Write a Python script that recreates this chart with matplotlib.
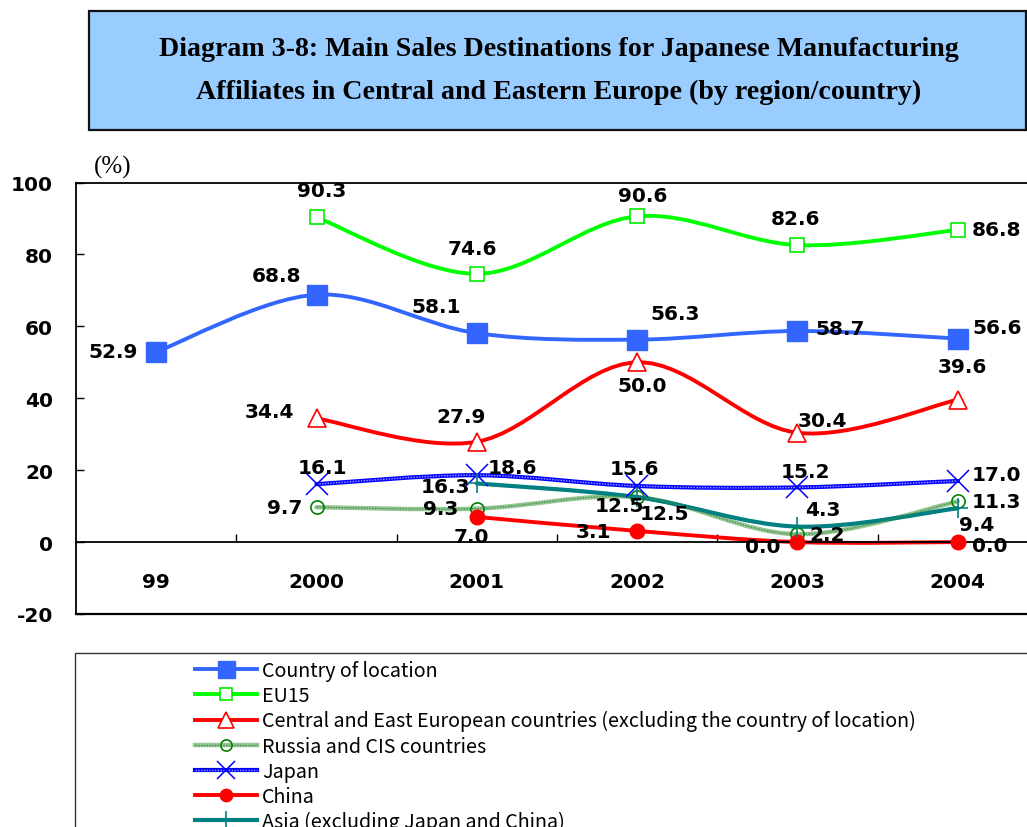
import matplotlib
matplotlib.use('Agg')
import matplotlib.pyplot as plt
from matplotlib.path import Path
from matplotlib.patches import PathPatch, Rectangle
from matplotlib.lines import Line2D
from matplotlib.font_manager import FontProperties
import numpy as np

# ---------------- data ----------------
years = ['99', '2000', '2001', '2002', '2003', '2004']
country_of_location = [52.9, 68.8, 58.1, 56.3, 58.7, 56.6]
eu15 = [None, 90.3, 74.6, 90.6, 82.6, 86.8]
central_east_europe = [None, 34.4, 27.9, 50.0, 30.4, 39.6]
russia_cis = [None, 9.7, 9.3, 12.5, 2.2, 11.3]
japan = [None, 16.1, 18.6, 15.6, 15.2, 17.0]
china = [None, None, 7.0, 3.1, 0.0, 0.0]
asia = [None, None, 16.3, 12.5, 4.3, 9.4]

legend_labels = [
    'Country of location',
    'EU15',
    'Central and East European countries (excluding the country of location)',
    'Russia and CIS countries',
    'Japan',
    'China',
    'Asia (excluding Japan and China)',
]
y_ticks = [-20, 0, 20, 40, 60, 80, 100]

# ---------------- styles ----------------
# label offsets in pixels (dx right, dy down) for each valid point
styles = [
    dict(values=country_of_location, color='#3366FF', marker='s', ms=14.4, mfc='#3366FF', mec='#3366FF', mew=1,
         lw=2.8, offsets=[(-43, 0), (-40, -19), (-41, -27), (38, -26), (43, -3), (39, -11)]),
    dict(values=eu15, color='#00FF00', marker='s', ms=10, mfc='white', mec='#00EE00', mew=1.2,
         lw=2.8, offsets=[(5, -27), (-4, -25), (6, -21), (-2, -27), (39, 0)]),
    dict(values=central_east_europe, color='#FF0000', marker='^', ms=13.5, mfc='white', mec='#FF0000', mew=1.2,
         lw=2.8, offsets=[(-47, -7), (-16, -25), (5, 23), (25, -12), (5, -33)]),
    dict(values=russia_cis, color='#94C694', marker='o', ms=9.5, mfc='none', mec='#008000', mew=1.2,
         lw=3.2, overlay='#4A8F4A', offsets=[(-32, 0), (-36, 0), (-18, 8), (30, 0), (39, 0)]),
    dict(values=japan, color='#0000FF', marker='x', ms=16, mfc='none', mec='#0000FF', mew=1.1,
         lw=3.0, overlay='#A0A0FF', offsets=[(6, -17), (36, -8), (-3, -17), (8, -16), (39, -6)]),
    dict(values=china, color='#FF0000', marker='o', ms=10.5, mfc='#FF0000', mec='#FF0000', mew=1,
         lw=2.8, offsets=[(-5, 20), (-44, 1), (-35, 4), (32, 3)]),
    dict(values=asia, color='#008080', marker='+', ms=15, mfc='none', mec='#008080', mew=1.2,
         lw=3.0, offsets=[(-31, 3), (27, 16), (25, -17), (19, 16)]),
]


def smooth_path(xs, ys):
    pts = np.column_stack([xs, ys]).astype(float)
    n = len(pts)
    verts = [pts[0]]
    codes = [Path.MOVETO]
    for i in range(n - 1):
        p0 = pts[i - 1] if i > 0 else pts[i]
        p1 = pts[i]
        p2 = pts[i + 1]
        p3 = pts[i + 2] if i + 2 < n else pts[i + 1]
        c1 = p1 + (p2 - p0) / 6.0
        c2 = p2 - (p3 - p1) / 6.0
        verts += [c1, c2, p2]
        codes += [Path.CURVE4] * 3
    return Path(verts, codes)


W, H = 1027, 828
fig = plt.figure(figsize=(W / 100, H / 100), dpi=100)

# title box
fig.patches.append(Rectangle((89 / W, 1 - 131 / H), (1026 - 89) / W, (131 - 12) / H,
                             transform=fig.transFigure, facecolor='#99CCFF',
                             edgecolor='#111111', linewidth=1.6))
title_font = dict(family='Liberation Serif', weight='bold', size=20.2)
fig.text(559 / W, 1 - 50 / H, 'Diagram 3-8: Main Sales Destinations for Japanese Manufacturing',
         ha='center', va='center', **title_font)
fig.text(559 / W, 1 - 92 / H, 'Affiliates in Central and Eastern Europe (by region/country)',
         ha='center', va='center', **title_font)

# legend box
fig.patches.append(Rectangle((75 / W, -0.05), 1.0, (828 - 654) / H + 0.05,
                             transform=fig.transFigure, facecolor='white',
                             edgecolor='#333333', linewidth=1.0))

ax = fig.add_axes([76 / W, (H - 615) / H, (1038 - 76) / W, (615 - 183.5) / H])
ax.set_xlim(-0.5, len(years) - 0.5)
ax.set_ylim(-20, 100)

x_idx = np.arange(len(years))
label_font = dict(family='DejaVu Sans', weight='bold', size=14.5)

handles = []
for st in styles:
    xs = [x for x, v in zip(x_idx, st['values']) if v is not None]
    ys = [v for v in st['values'] if v is not None]
    path = smooth_path(xs, ys)
    ax.add_patch(PathPatch(path, facecolor='none', edgecolor=st['color'], lw=st['lw'],
                           capstyle='round', joinstyle='round', zorder=2))
    hparts = [Line2D([], [], color=st['color'], lw=st['lw'])]
    if 'overlay' in st:
        ax.add_patch(PathPatch(path, facecolor='none', edgecolor=st['overlay'], lw=1.0,
                               linestyle=(0, (1, 1)), zorder=2.1))
        hparts.append(Line2D([], [], color=st['overlay'], lw=1.0, linestyle=(0, (1, 1))))
    ax.plot(xs, ys, linestyle='none', marker=st['marker'], ms=st['ms'], mfc=st['mfc'],
            mec=st['mec'], mew=st['mew'], zorder=3, clip_on=False)
    hparts.append(Line2D([], [], linestyle='none', marker=st['marker'], ms=st['ms'] * 0.85,
                         mfc=st['mfc'], mec=st['mec'], mew=st['mew']))
    handles.append(tuple(hparts))
    for x, y, (dx, dy) in zip(xs, ys, st['offsets']):
        ax.annotate(f'{y:.1f}', (x, y), xytext=(dx, -dy), textcoords='offset pixels',
                    ha='center', va='center', zorder=5, annotation_clip=False, **label_font)

# axes styling
for s in ['top', 'right', 'left']:
    ax.spines[s].set_linewidth(1.3)
ax.spines['bottom'].set_position(('data', 0))
ax.spines['bottom'].set_linewidth(1.3)
ax.axhline(-20, color='black', lw=1.6, clip_on=False, zorder=4)

ax.set_yticks(y_ticks)
ax.set_yticklabels([str(t) for t in y_ticks])
ax.tick_params(axis='y', direction='in', length=6, width=1, pad=16.5)
for t in ax.get_yticklabels():
    t.set_fontproperties(FontProperties(**label_font))

ax.set_xticks(np.arange(len(years) - 1) + 0.5)
ax.set_xticklabels([])
ax.tick_params(axis='x', which='major', direction='in', length=6, width=1)
ax.set_xticks(x_idx, minor=True)
ax.set_xticklabels(years, minor=True)
ax.tick_params(axis='x', which='minor', length=0, pad=21.5)
for t in ax.get_xticklabels(minor=True):
    t.set_fontproperties(FontProperties(**label_font))

fig.text(113 / W, 1 - 167 / H, '(%)', ha='center', va='center',
         family='Liberation Serif', size=18)

leg = fig.legend(handles, legend_labels, loc='upper left',
                 bbox_to_anchor=(195 / W, 1 - 661 / H), frameon=False, borderpad=0,
                 borderaxespad=0, handlelength=3.15, handletextpad=0.26, labelspacing=0.21,
                 prop=dict(family='Noto Sans CJK JP', size=14.2))

fig.savefig('out.png', dpi=100)
